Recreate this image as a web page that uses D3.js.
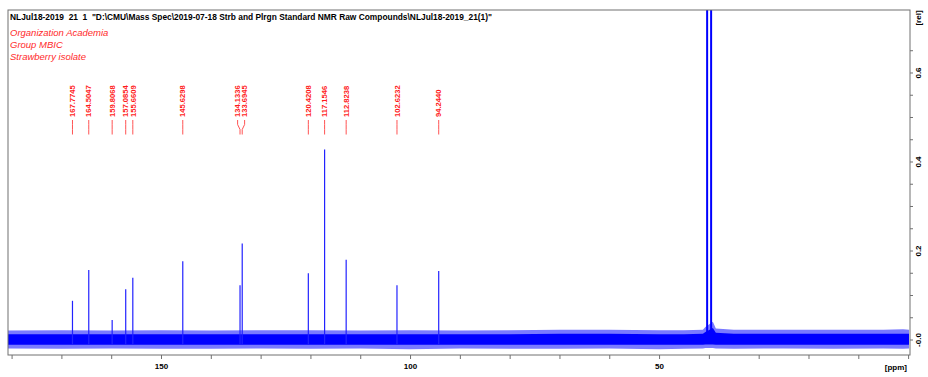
<!DOCTYPE html>
<html><head><meta charset="utf-8">
<script src="https://cdn.jsdelivr.net/npm/d3@7/dist/d3.min.js"></script>
<style>body{margin:0;background:#fff} svg{display:block}</style>
</head><body><svg id="c" width="928" height="377"></svg>
<script>
// ---------------- data ----------------
const headerText = 'NLJul18-2019  21  1  "D:\\CMU\\Mass Spec\\2019-07-18 Strb and Plrgn Standard NMR Raw Compounds\\NLJul18-2019_21(1)"';
const infoLines = ["Organization Academia", "Group MBIC", "Strawberry isolate"];

const peakPpm    = [167.7745, 164.5047, 159.8068, 157.0854, 155.6609, 145.6298, 134.1336, 133.6945, 120.4208, 117.1546, 112.8238, 102.6232, 94.2440];
const peakHeight = [0.087, 0.156, 0.044, 0.113, 0.139, 0.176, 0.122, 0.216, 0.149, 0.427, 0.179, 0.122, 0.154];
const peakLabels = ["167.7745", "164.5047", "159.8068", "157.0854", "155.6609", "145.6298", "134.1336", "133.6945", "120.4208", "117.1546", "112.8238", "102.6232", "94.2440"];

const solventPpm    = [40.35, 39.55];
const solventHeight = [2.0, 2.0];

// noise envelope
const noisePpm     = [180.72, 170, 160, 150, 140, 130, 120, 110, 100, 90, 80, 70, 60, 50, 45, 41.2, 40.7, 39.2, 38.6, 35, 25, 15, 5, 1, -0.18];
const noiseOuterHi = [0.020, 0.021, 0.020, 0.021, 0.020, 0.021, 0.021, 0.020, 0.021, 0.020, 0.021, 0.022, 0.022, 0.021, 0.021, 0.022, 0.028, 0.040, 0.025, 0.022, 0.022, 0.022, 0.022, 0.023, 0.022];
const noiseOuterLo = [-0.020, -0.021, -0.020, -0.021, -0.021, -0.020, -0.021, -0.020, -0.022, -0.020, -0.021, -0.021, -0.020, -0.022, -0.021, -0.020, -0.019, -0.019, -0.020, -0.021, -0.020, -0.021, -0.020, -0.021, -0.020];
const noiseCoreHi  = [0.012, 0.012, 0.012, 0.012, 0.012, 0.012, 0.012, 0.012, 0.012, 0.012, 0.012, 0.013, 0.013, 0.012, 0.012, 0.013, 0.017, 0.026, 0.015, 0.013, 0.013, 0.013, 0.013, 0.013, 0.013];
const noiseCoreLo  = [-0.012, -0.012, -0.012, -0.012, -0.012, -0.012, -0.012, -0.012, -0.012, -0.012, -0.012, -0.012, -0.012, -0.012, -0.012, -0.012, -0.011, -0.011, -0.012, -0.012, -0.012, -0.012, -0.012, -0.012, -0.012];

const xTickValues = d3.range(180, -1, -10);
const xTickLabels = [150, 100, 50];
const yTickValues = d3.range(0, 14).map(i => i * 0.05);
const yTickLabels = [0, 0.2, 0.4, 0.6];

// ---------------- layout ----------------
const L = 8, R = 909, T = 10, B = 355;
const x = d3.scaleLinear().domain([180.72, -0.18]).range([L, R]);
const y = d3.scaleLinear().domain([-0.0348, 0.7404]).range([B, T]);
const FONT = "'Liberation Sans', Arial, sans-serif";
const axisColor = "#707070";

const svg = d3.select("#c");

svg.append("defs").append("clipPath").attr("id", "plotclip")
  .append("rect").attr("x", L).attr("y", T).attr("width", R - L).attr("height", B - T);

const plot = svg.append("g").attr("clip-path", "url(#plotclip)");

// noise band
const noise = noisePpm.map((p, i) => ({p, oh: noiseOuterHi[i], ol: noiseOuterLo[i], ch: noiseCoreHi[i], cl: noiseCoreLo[i]}));
plot.append("path").datum(noise)
  .attr("d", d3.area().x(d => x(d.p)).y0(d => y(d.ol)).y1(d => y(d.oh)))
  .attr("fill", "#7a7aff");
plot.append("path").datum(noise)
  .attr("d", d3.area().x(d => x(d.p)).y0(d => y(d.cl)).y1(d => y(d.ch)))
  .attr("fill", "#0000ff");

// peaks
const peaks = peakPpm.map((p, i) => ({p, h: peakHeight[i], label: peakLabels[i]}));
plot.selectAll("line.peak").data(peaks).join("line").attr("class", "peak")
  .attr("x1", d => x(d.p)).attr("x2", d => x(d.p))
  .attr("y1", y(-0.012)).attr("y2", d => y(d.h))
  .attr("stroke", "#2222ff").attr("stroke-width", 1.2);

// solvent
const solv = solventPpm.map((p, i) => ({p, h: solventHeight[i]}));
plot.selectAll("line.solv").data(solv).join("line").attr("class", "solv")
  .attr("x1", d => x(d.p)).attr("x2", d => x(d.p))
  .attr("y1", y(0.0)).attr("y2", d => y(d.h))
  .attr("stroke", "#0000ff").attr("stroke-width", 2);

// frame
svg.append("rect").attr("x", L).attr("y", T).attr("width", R - L + 1).attr("height", B - T)
  .attr("fill", "none").attr("stroke", axisColor).attr("stroke-width", 1);

// x axis
const xAxis = svg.append("g").attr("transform", `translate(0,${B})`)
  .call(d3.axisBottom(x).tickValues(xTickValues).tickSize(4).tickPadding(4)
    .tickFormat(d => xTickLabels.includes(d) ? d : ""));
xAxis.select(".domain").remove();
xAxis.selectAll("line").attr("stroke", axisColor);
xAxis.selectAll("text").attr("font-family", FONT).attr("font-size", 8).attr("font-weight", "bold").attr("fill", "#000");
svg.append("text").attr("x", 907).attr("y", 370).attr("text-anchor", "end")
  .attr("font-family", FONT).attr("font-size", 8).attr("font-weight", "bold").text("[ppm]");

// y axis (right)
const yAxis = svg.append("g").attr("transform", `translate(${R + 1},0)`)
  .call(d3.axisRight(y).tickValues(yTickValues.filter(v => v <= 0.74)).tickSize(3)
    .tickFormat(d => {
      const m = yTickLabels.find(v => Math.abs(v - d) < 1e-6);
      if (m === undefined) return "";
      return m === 0 ? "-0.0" : m.toFixed(1);
    }));
yAxis.select(".domain").remove();
yAxis.selectAll("line").attr("stroke", axisColor);
yAxis.selectAll("text")
  .attr("x", null).attr("dy", null)
  .attr("transform", "translate(11,0) rotate(-90)")
  .attr("text-anchor", "middle")
  .attr("font-family", FONT).attr("font-size", 8).attr("font-weight", "bold").attr("fill", "#000");
svg.append("text").attr("transform", `translate(${R + 12},18) rotate(-90)`)
  .attr("text-anchor", "middle")
  .attr("font-family", FONT).attr("font-size", 8).attr("font-weight", "bold").text("[rel]");

// header texts
svg.append("text").attr("x", 10).attr("y", 19.5)
  .style("white-space", "pre")
  .attr("font-family", FONT).attr("font-size", 8.3).attr("font-weight", "bold").attr("fill", "#000")
  .attr("textLength", 482).attr("lengthAdjust", "spacingAndGlyphs")
  .text(headerText);
svg.selectAll("text.info").data(infoLines).join("text").attr("class", "info")
  .attr("x", 10).attr("y", (d, i) => 35.5 + i * 12)
  .attr("font-family", FONT).attr("font-size", 9.5).attr("font-style", "italic").attr("fill", "#ff2a2a")
  .text(d => d);

// peak labels with de-overlap
const lab = peaks.map(d => ({...d, px: x(d.p), lx: x(d.p)})).sort((a, b) => a.px - b.px);
const gap = 7;
for (let it = 0; it < 50; it++) {
  for (let i = 1; i < lab.length; i++) {
    const dd = lab[i].lx - lab[i - 1].lx;
    if (dd < gap) {
      const s = (gap - dd) / 2;
      lab[i].lx += s; lab[i - 1].lx -= s;
    }
  }
}
const lg = svg.append("g");
lg.selectAll("path").data(lab).join("path")
  .attr("d", d => `M${d.lx},120V124.5L${d.px},129.5V134.5`)
  .attr("fill", "none").attr("stroke", "#ff4040").attr("stroke-width", 0.9);
lg.selectAll("text").data(lab).join("text")
  .attr("transform", d => `translate(${d.lx + 2.7},117) rotate(-90)`)
  .attr("font-family", FONT).attr("font-size", 7.6).attr("font-weight", "bold").attr("fill", "#ff1a1a")
  .text(d => d.label);
</script>
</body></html>
